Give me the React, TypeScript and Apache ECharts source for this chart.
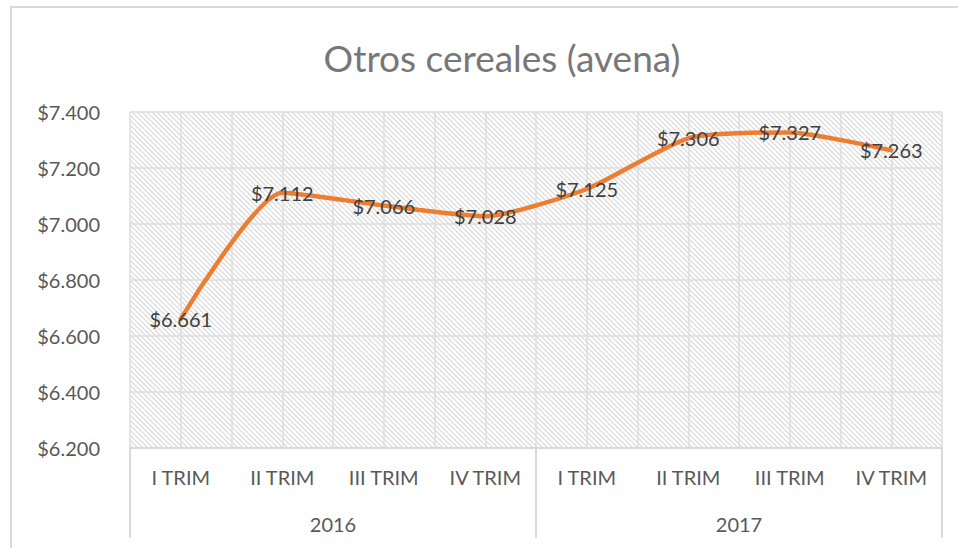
import React, { useEffect, useRef } from "react";
import * as echarts from "echarts";

const quarters = ["I TRIM", "II TRIM", "III TRIM", "IV TRIM", "I TRIM", "II TRIM", "III TRIM", "IV TRIM"];
const years = ["2016", "2017"];
const values = [6661, 7112, 7066, 7028, 7125, 7306, 7327, 7263];
const halfSlots = Array.from({ length: 16 }, (_, i) => String(i));

const FONT = "Lato";
const fmt = (v: number) => "$" + (v / 1000).toFixed(3);

function makeHatch() {
  const c = document.createElement("canvas");
  c.width = 5;
  c.height = 5;
  const ctx = c.getContext("2d")!;
  ctx.fillStyle = "#ffffff";
  ctx.fillRect(0, 0, 5, 5);
  ctx.strokeStyle = "#d6d6d6";
  ctx.lineWidth = 1.1;
  ctx.beginPath();
  ctx.moveTo(-1, -1);
  ctx.lineTo(6, 6);
  ctx.moveTo(-1, 4);
  ctx.lineTo(1, 6);
  ctx.moveTo(4, -1);
  ctx.lineTo(6, 1);
  ctx.stroke();
  return c;
}

export default function App() {
  const ref = useRef<HTMLDivElement>(null);
  useEffect(() => {
    if (!ref.current) return;
    const chart = echarts.init(ref.current, null, { renderer: "svg" });
    const hatch = makeHatch();
    chart.setOption({
      animation: false,
      backgroundColor: "#ffffff",
      title: {
        text: "Otros cereales (avena)",
        left: 497,
        top: 34,
        textAlign: "center",
        textStyle: { fontFamily: FONT, fontSize: 37, fontWeight: "normal", color: "#777777" },
      },
      graphic: [
        {
          type: "rect",
          shape: { x: 11, y: 7, width: 1200, height: 1200 },
          style: { fill: "none", stroke: "#d9d9d9", lineWidth: 2 },
          silent: true,
        },
      ],
      grid: {
        left: 130,
        right: 16,
        top: 112,
        bottom: 100,
        show: true,
        borderWidth: 0,
        backgroundColor: { image: hatch, repeat: "repeat", imageWidth: 5, imageHeight: 5 },
      },
      xAxis: [
        {
          type: "category",
          data: quarters,
          position: "bottom",
          boundaryGap: true,
          axisLine: { show: true, lineStyle: { color: "#d9d9d9", width: 2 } },
          axisTick: { show: false },
          splitLine: { show: false },
          axisLabel: {
            interval: 0,
            margin: 19,
            fontFamily: FONT,
            fontSize: 20,
            color: "#595959",
          },
        },
        {
          type: "category",
          data: years,
          position: "bottom",
          boundaryGap: true,
          axisLine: { show: false },
          axisTick: { show: true, length: 90, lineStyle: { color: "#d9d9d9", width: 2 } },
          splitLine: { show: false },
          axisLabel: {
            interval: 0,
            margin: 66,
            fontFamily: FONT,
            fontSize: 20,
            color: "#595959",
          },
        },
        {
          type: "category",
          data: halfSlots,
          position: "top",
          boundaryGap: true,
          show: true,
          axisLine: { show: false },
          axisTick: { show: false },
          axisLabel: { show: false },
          splitLine: { show: true, interval: 0, lineStyle: { color: "#dedede", width: 1.5 } },
        },
      ],
      yAxis: {
        type: "value",
        min: 6200,
        max: 7400,
        interval: 200,
        axisLine: { show: false },
        axisTick: { show: false },
        splitLine: { show: true, lineStyle: { color: "#dedede", width: 1.5 } },
        axisLabel: {
          margin: 30,
          fontFamily: FONT,
          fontSize: 20,
          color: "#595959",
          formatter: (v: number) => fmt(v),
        },
      },
      series: [
        {
          type: "line",
          xAxisIndex: 0,
          data: values,
          smooth: 0.2,
          symbol: "circle",
          symbolSize: 2,
          showSymbol: true,
          lineStyle: { color: "#ED7D31", width: 4.5, cap: "round", join: "round" },
          itemStyle: { color: "rgba(0,0,0,0)", borderWidth: 0 },
          label: {
            show: true,
            position: "inside",
            fontFamily: FONT,
            fontSize: 20,
            color: "#404040",
            formatter: (p: any) => fmt(p.value),
          },
          z: 5,
        },
      ],
    });
    return () => chart.dispose();
  }, []);
  return (
    <div
      ref={ref}
      style={{ position: "absolute", left: 0, top: 0, width: 958, height: 548 }}
    />
  );
}
